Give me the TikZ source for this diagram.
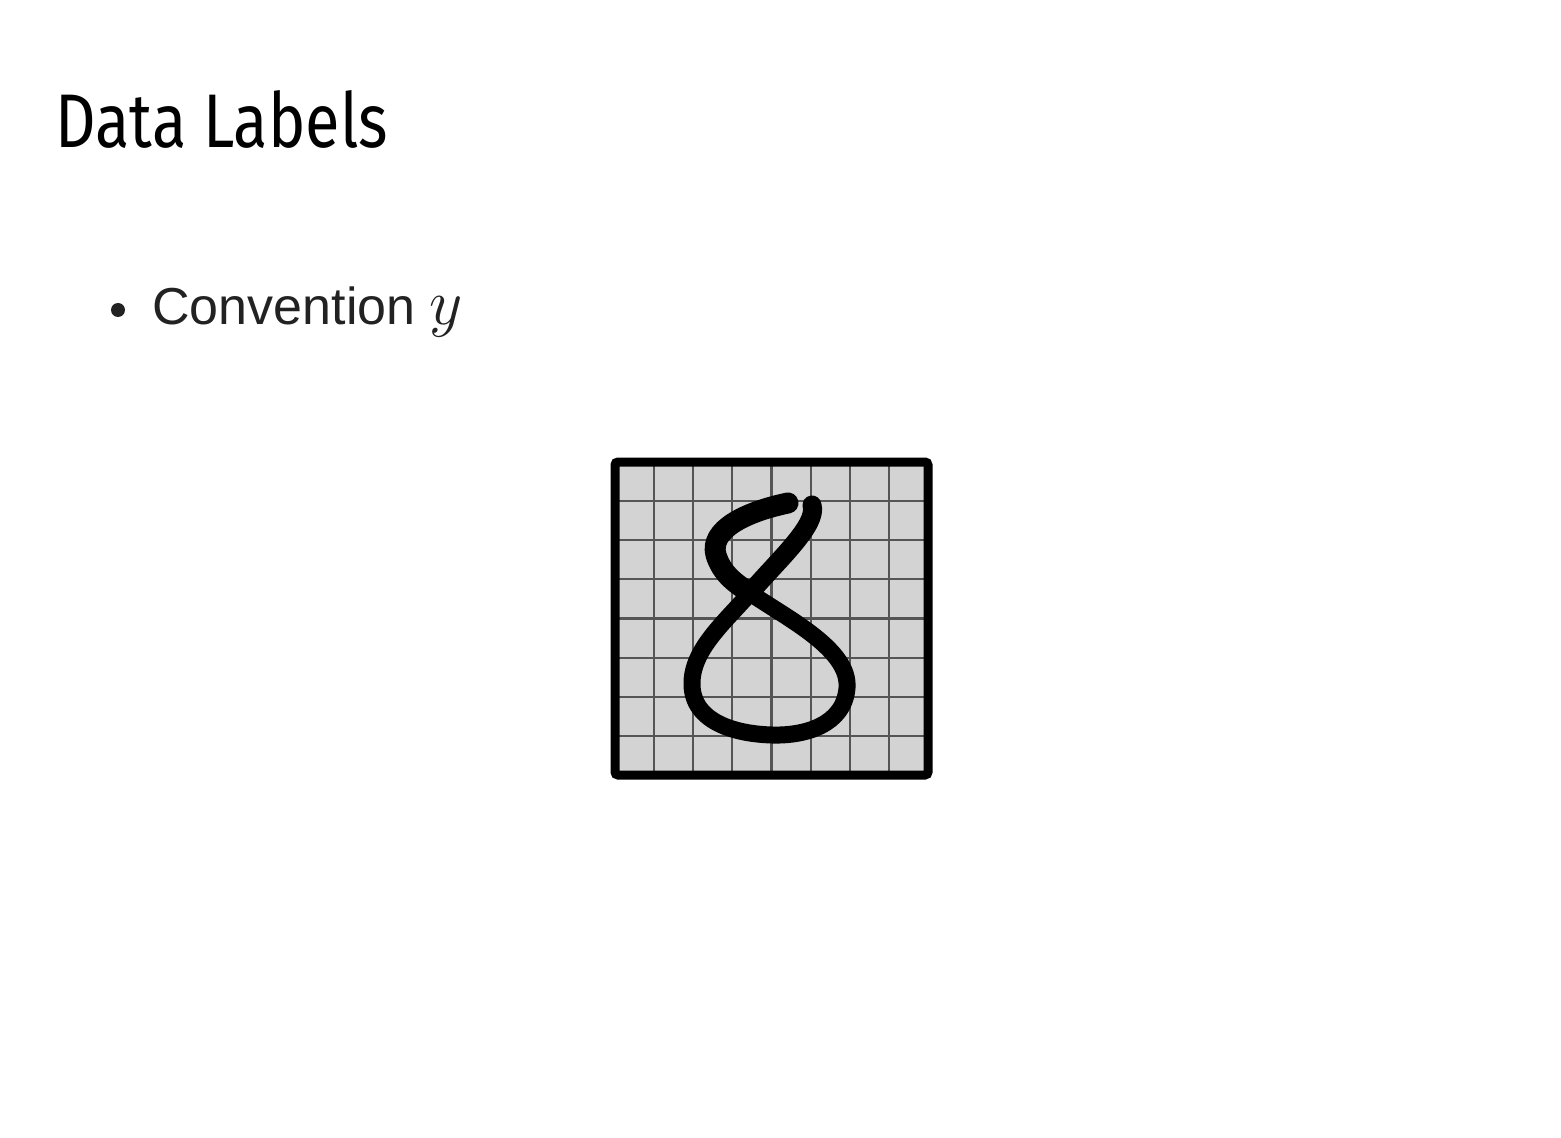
\documentclass[tikz,border=0pt]{standalone}
\usepackage{fontspec}
\setmainfont{Liberation Sans}
\newfontfamily\titlefont{Fira Sans}[FakeStretch=0.83]
\definecolor{bodytext}{HTML}{222222}
\definecolor{pixelgray}{HTML}{D3D3D3}
\definecolor{gridgray}{HTML}{555555}
\begin{document}
\begin{tikzpicture}[x=0.5pt, y=-0.5pt,
  gridline/.style={gridgray, line width=1.1pt},
  stroke/.style={black, line width=8.5pt, line cap=round, line join=round}]
\useasboundingbox (0,0) rectangle (1561,1138);
% Título e item
\node[anchor=base west, inner sep=0pt, font=\titlefont\fontsize{38}{40}\selectfont] (title) at (55,148) {Data Labels};
\node[circle, fill=bodytext, inner sep=0pt, minimum size=7pt] (dot) at (118,310) {};
\node[anchor=base west, inner sep=0pt, bodytext, font=\fontsize{26}{30}\selectfont] (item) at (152,325) {Convention \scalebox{1.3}{$y$}};
% Imagem 8x8 com o dígito
\fill[pixelgray] (615,462) rectangle (928,775);
\foreach \k in {1,...,7} {
  \draw[gridline] (615+39.125*\k,462) -- (615+39.125*\k,775);
  \draw[gridline] (615,462+39.125*\k) -- (928,462+39.125*\k);
}
\draw[black, line width=4.5pt, rounded corners=1.5pt] (615,462) rectangle (928,775);
\coordinate (start) at (788,503);
\coordinate (bend) at (716,555);
\coordinate (cross) at (750,593);
\coordinate (right) at (847,688);
\coordinate (bottom) at (772,735);
\coordinate (left) at (692,685);
\coordinate (finish) at (812,505);
\draw[stroke] (cross)
  .. controls (790,620) and (850,650) .. (right)
  .. controls (844,725) and (805,736) .. (bottom)
  .. controls (735,734) and (693,722) .. (left)
  .. controls (691,650) and (725,622) .. (cross);
% parte de cima, traço mais grosso
\draw[stroke, line width=10.5pt] (start) .. controls (745,512) and (709,530) .. (bend)
  .. controls (722,574) and (735,583) .. (cross);
\draw[stroke, line width=9.5pt] (cross) .. controls (778,560) and (818,525) .. (finish);
\end{tikzpicture}
\end{document}
